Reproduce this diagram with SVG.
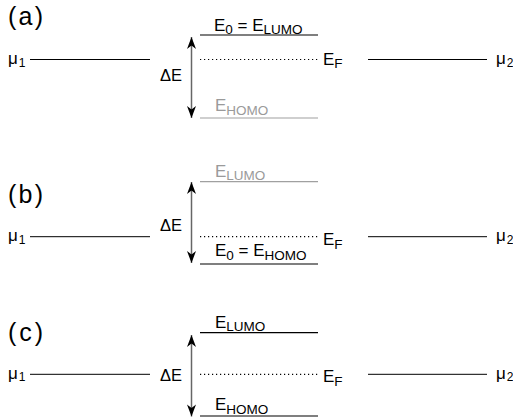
<svg xmlns="http://www.w3.org/2000/svg" width="513" height="420" viewBox="0 0 513 420">
<style>
  text { font-family: "Liberation Sans", Arial, sans-serif; fill: #000; }
  .panel { font-size: 25px; }
  .lbl { font-size: 17px; }
  .de { font-size: 16.5px; }
  .mu { font-size: 17px; }
  .sub { font-size: 13.5px; }
  .musub { font-size: 12px; }
  .gray { fill: #9a9a9a; }
  .lead { stroke: #000; stroke-width: 1; fill: none; }
  .lvl { stroke: #000; stroke-width: 1.2; fill: none; }
  .lvlg { stroke: #a0a0a0; stroke-width: 1.2; fill: none; }
  .fermi { stroke: #000; stroke-width: 1.2; stroke-dasharray: 1.2 2.8; fill: none; }
  .gap { stroke: #666; stroke-width: 1.5; fill: none; marker-start: url(#ah); marker-end: url(#ah); }
</style>
<defs>
  <marker id="ah" markerUnits="userSpaceOnUse" viewBox="-13 -6 14 12" refX="0" refY="0" markerWidth="14" markerHeight="12" orient="auto-start-reverse">
    <path d="M0,0 L-12,-4.5 L-8.5,0 L-12,4.5 Z" fill="#000"/>
  </marker>
</defs>

<!-- Panel (a) -->
<g id="panel-a">
  <text class="panel" x="8" y="25" textLength="35" lengthAdjust="spacing">(a)</text>
  <g id="a-mu1"><text class="mu" x="8" y="64">μ<tspan class="musub" dx="1" dy="2.5">1</tspan></text></g>
  <g id="a-mu2"><text class="mu" x="496" y="64">μ<tspan class="musub" dx="1" dy="2.5">2</tspan></text></g>
  <g id="a-lumo">
    <line class="lvl" x1="200" y1="35" x2="318" y2="35"/>
    <text class="lbl" x="214" y="30.5">E<tspan class="sub" dy="3.5">0</tspan><tspan dy="-3.5"> = E</tspan><tspan class="sub" dy="3.5">LUMO</tspan></text>
  </g>
  <g id="a-homo">
    <line class="lvlg" x1="200" y1="118" x2="318" y2="118"/>
    <text class="lbl gray" x="215" y="111">E<tspan class="sub" dy="3.5">HOMO</tspan></text>
  </g>
  <g id="a-fermi">
    <text class="lbl" x="323" y="64.5">E<tspan class="sub" dy="3.5">F</tspan></text>
  </g>
  <g id="a-de"><text class="de" x="160" y="80.5">ΔE</text></g>
</g>

<!-- Panel (b) -->
<g id="panel-b">
  <text class="panel" x="8" y="202.5" textLength="35" lengthAdjust="spacing">(b)</text>
  <g id="b-mu1"><text class="mu" x="8" y="241">μ<tspan class="musub" dx="1" dy="2.5">1</tspan></text></g>
  <g id="b-mu2"><text class="mu" x="496" y="241">μ<tspan class="musub" dx="1" dy="2.5">2</tspan></text></g>
  <g id="b-lumo">
    <line class="lvlg" x1="200" y1="181.7" x2="318" y2="181.7"/>
    <text class="lbl gray" x="215" y="176.5">E<tspan class="sub" dy="3.5">LUMO</tspan></text>
  </g>
  <g id="b-homo">
    <line class="lvl" x1="200" y1="264" x2="318" y2="264"/>
    <text class="lbl" x="215" y="256">E<tspan class="sub" dy="3.5">0</tspan><tspan dy="-3.5"> = E</tspan><tspan class="sub" dy="3.5">HOMO</tspan></text>
  </g>
  <g id="b-fermi">
    <text class="lbl" x="323" y="245">E<tspan class="sub" dy="3.5">F</tspan></text>
  </g>
  <g id="b-de"><text class="de" x="160" y="231">ΔE</text></g>
</g>

<!-- Panel (c) -->
<g id="panel-c">
  <text class="panel" x="8" y="341" textLength="35" lengthAdjust="spacing">(c)</text>
  <g id="c-mu1"><text class="mu" x="8" y="378.5">μ<tspan class="musub" dx="1" dy="2.5">1</tspan></text></g>
  <g id="c-mu2"><text class="mu" x="496" y="378.5">μ<tspan class="musub" dx="1" dy="2.5">2</tspan></text></g>
  <g id="c-lumo">
    <line class="lvl" x1="200" y1="332.7" x2="318" y2="332.7"/>
    <text class="lbl" x="215" y="327.5">E<tspan class="sub" dy="3.5">LUMO</tspan></text>
  </g>
  <g id="c-homo">
    <line class="lvl" x1="200" y1="416" x2="318" y2="416"/>
    <text class="lbl" x="215" y="410">E<tspan class="sub" dy="3.5">HOMO</tspan></text>
  </g>
  <g id="c-fermi">
    <text class="lbl" x="323" y="382">E<tspan class="sub" dy="3.5">F</tspan></text>
  </g>
  <g id="c-de"><text class="de" x="160" y="381">ΔE</text></g>
</g>

<!-- Connectors -->
<g id="connectors">
  <line class="lead" x1="30" y1="59.5" x2="150" y2="59.5"/>
  <line class="lead" x1="368" y1="59.5" x2="487" y2="59.5"/>
  <line class="fermi" x1="200" y1="59.5" x2="318" y2="59.5"/>
  <line class="gap" x1="191.5" y1="37" x2="191.5" y2="118"/>

  <line class="lead" x1="30" y1="236.7" x2="150" y2="236.7"/>
  <line class="lead" x1="368" y1="236.7" x2="487" y2="236.7"/>
  <line class="fermi" x1="200" y1="236.7" x2="318" y2="236.7"/>
  <line class="gap" x1="191.5" y1="182" x2="191.5" y2="263"/>

  <line class="lead" x1="30" y1="374.3" x2="150" y2="374.3"/>
  <line class="lead" x1="368" y1="374.3" x2="487" y2="374.3"/>
  <line class="fermi" x1="200" y1="374.3" x2="318" y2="374.3"/>
  <line class="gap" x1="191.5" y1="335" x2="191.5" y2="416.5"/>
</g>
</svg>
